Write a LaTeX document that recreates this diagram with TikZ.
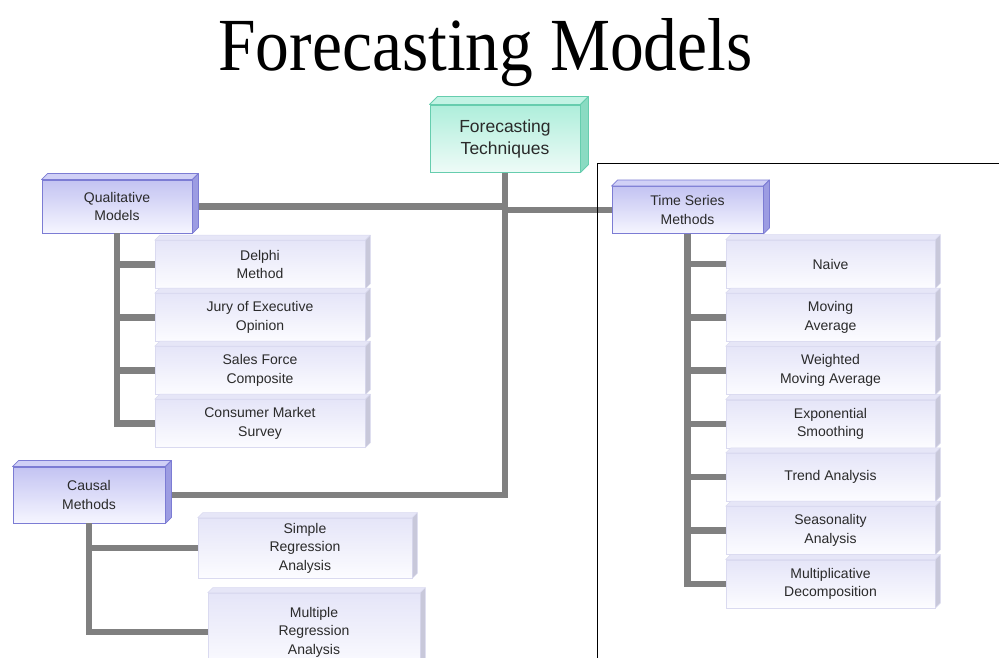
\documentclass[tikz,border=0pt]{standalone}
\usepackage{fontspec}
\setmainfont{Liberation Sans}
\newfontfamily\titlefont{Liberation Serif}
\definecolor{txt}{HTML}{2A2A2A}
\definecolor{conncol}{HTML}{808080}
% teal root box
\definecolor{fttop}{HTML}{AEEEDB}
\definecolor{ftbot}{HTML}{EEFBF7}
\definecolor{ftborder}{HTML}{66CDAE}
\definecolor{fttopface}{HTML}{C2F3E4}
\definecolor{ftside}{HTML}{8ADBC2}
% lavender group boxes
\definecolor{mtop}{HTML}{C3C3F2}
\definecolor{mbot}{HTML}{F6F6FF}
\definecolor{mborder}{HTML}{7C7CD4}
\definecolor{mtopface}{HTML}{D0D0F6}
\definecolor{mside}{HTML}{9C9CE2}
% pale leaf boxes
\definecolor{ltop}{HTML}{E5E5F8}
\definecolor{lbot}{HTML}{FCFCFF}
\definecolor{lborder}{HTML}{DADAF0}
\definecolor{ltopface}{HTML}{E6E6F7}
\definecolor{lside}{HTML}{C8C8DA}
% top and right faces of a box node: name, depth, face style, side style
\newcommand\boxfaces[4]{%
  \path[#3] (#1.north west) -- ++(#2,-#2) -- ([shift={(#2,-#2)}]#1.north east) -- (#1.north east) -- cycle;
  \path[#4] (#1.north east) -- ++(#2,-#2) -- ([shift={(#2,-#2)}]#1.south east) -- (#1.south east) -- cycle;
}
\begin{document}
\begin{tikzpicture}[x=1pt,y=-1pt,
  box/.style={rectangle, inner sep=0pt, align=center, text=txt,
    font=\fontsize{14}{18.5}\selectfont},
  rootbox/.style={box, draw=ftborder, line width=1pt, top color=fttop, bottom color=ftbot,
    font=\fontsize{17.5}{22}\selectfont},
  groupbox/.style={box, draw=mborder, line width=0.9pt, top color=mtop, bottom color=mbot},
  leafbox/.style={box, draw=lborder, line width=0.6pt, top color=ltop, bottom color=lbot},
  rootface/.style={fill=fttopface, draw=ftborder, line width=0.8pt, line join=round},
  rootside/.style={fill=ftside, draw=ftborder, line width=0.8pt, line join=round},
  groupface/.style={fill=mtopface, draw=mborder, line width=0.8pt, line join=round},
  groupside/.style={fill=mside, draw=mborder, line width=0.8pt, line join=round},
  leafface/.style={fill=ltopface, draw=lborder, line width=0.5pt, line join=round},
  leafside/.style={fill=lside, draw=lborder, line width=0.5pt, line join=round},
  conn/.style={draw=conncol, line width=6.5pt},
  frame/.style={draw=black, line width=0.9pt}]
\useasboundingbox (0,0) rectangle (999,657);
\clip (0,0) rectangle (999,657);
\fill[white] (0,0) rectangle (999,657);

% title
\node[anchor=base, xscale=0.9, inner sep=0pt, font=\titlefont\fontsize{75}{80}\selectfont]
  (title) at (485.5,70) {Forecasting Models};

% root and group boxes
\node[rootbox, minimum width=150pt, minimum height=67pt] (ft) at (505,138.5) {Forecasting\\Techniques};
\node[groupbox, minimum width=150pt, minimum height=53pt] (qual) at (117,206.5) {Qualitative\\Models};
\node[groupbox, minimum width=151pt, minimum height=47pt] (ts) at (687.5,210) {Time Series\\Methods};
\node[groupbox, minimum width=152pt, minimum height=56pt] (causal) at (89,495) {Causal\\Methods};

% qualitative models
\node[leafbox, minimum width=210pt, minimum height=48pt] (delphi) at (260,264.5) {Delphi\\Method};
\node[leafbox, minimum width=210pt, minimum height=48pt] (jury) at (260,317.5) {Jury of Executive\\Opinion};
\node[leafbox, minimum width=210pt, minimum height=48pt] (sales) at (260,370.5) {Sales Force\\Composite};
\node[leafbox, minimum width=210pt, minimum height=48pt] (survey) at (260,423.5) {Consumer Market\\Survey};

% causal methods
\node[leafbox, minimum width=214pt, minimum height=60pt] (simple) at (305,548) {Simple\\Regression\\Analysis};
\node[leafbox, minimum width=212pt, minimum height=78pt] (multiple) at (314,632) {Multiple\\Regression\\Analysis};

% time series methods
\node[leafbox, minimum width=209pt, minimum height=48pt] (naive) at (830.5,264) {Naive};
\node[leafbox, minimum width=209pt, minimum height=48pt] (mavg) at (830.5,317.3) {Moving\\Average};
\node[leafbox, minimum width=209pt, minimum height=48pt] (wmavg) at (830.5,370.6) {Weighted\\Moving Average};
\node[leafbox, minimum width=209pt, minimum height=48pt] (expo) at (830.5,423.9) {Exponential\\Smoothing};
\node[leafbox, minimum width=209pt, minimum height=48pt] (trend) at (830.5,477.2) {Trend Analysis};
\node[leafbox, minimum width=209pt, minimum height=48pt] (season) at (830.5,530.5) {Seasonality\\Analysis};
\node[leafbox, minimum width=209pt, minimum height=48pt] (mult) at (830.5,583.8) {Multiplicative\\Decomposition};

% connectors
\draw[conn] (ft.south) |- (causal.east);
\draw[conn] (qual.east) -- (ft.south |- qual.east);
\draw[conn] (ft.south |- ts.west) -- (ts.west);
\foreach \c in {delphi,jury,sales,survey}
  \draw[conn] (qual.south) |- (\c.west);
\foreach \c in {simple,multiple}
  \draw[conn] (causal.south) |- (\c.west);
\foreach \c in {naive,mavg,wmavg,expo,trend,season,mult}
  \draw[conn] (ts.south) |- (\c.west);

% box depth faces
\boxfaces{ft}{8}{rootface}{rootside}
\foreach \b in {qual,ts,causal}
  {\boxfaces{\b}{6}{groupface}{groupside}}
\foreach \b in {delphi,jury,sales,survey,simple,multiple,naive,mavg,wmavg,expo,trend,season,mult}
  {\boxfaces{\b}{5}{leafface}{leafside}}

% frame around the time series group
\coordinate (frameTL) at (597,163);
\draw[frame] (frameTL |- 0,680) -- (frameTL) -- (1010,163);
\end{tikzpicture}
\end{document}
